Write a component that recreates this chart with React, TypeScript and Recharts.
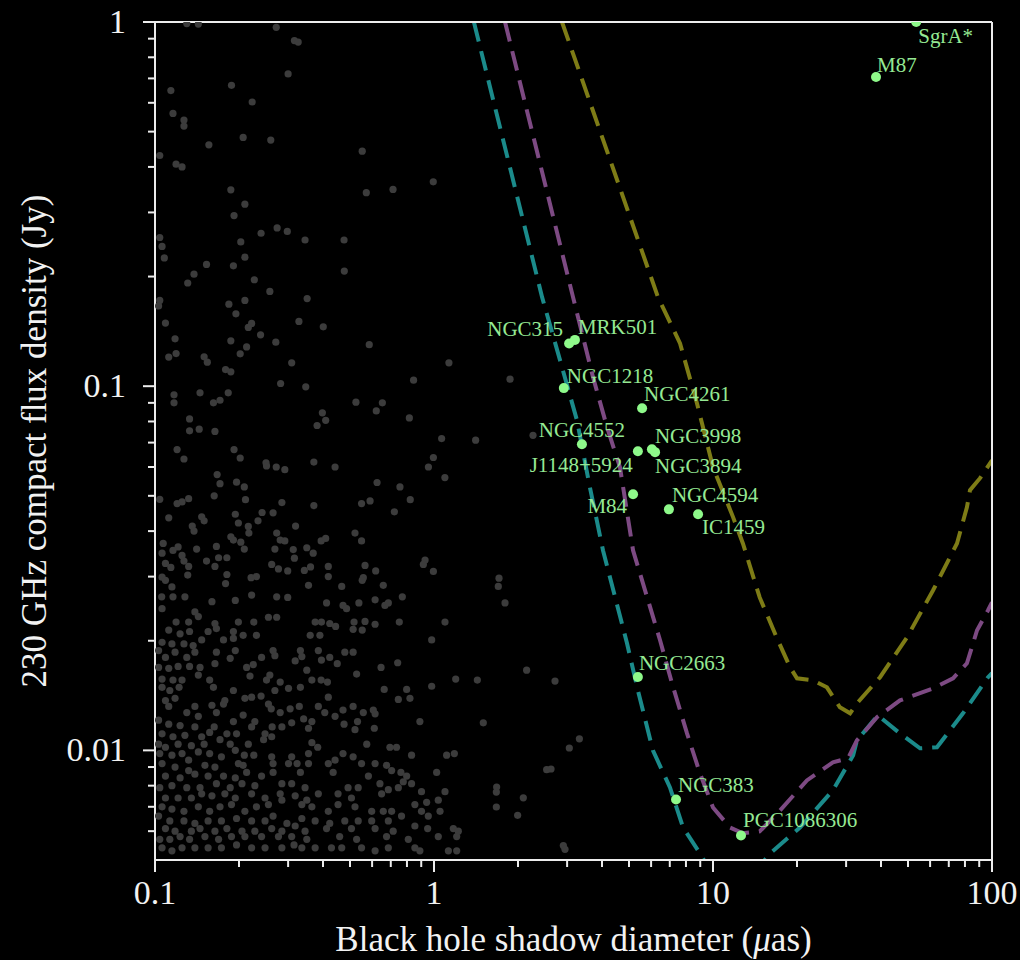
import { ComposedChart, Line, ReferenceLine, Scatter, XAxis, YAxis } from 'recharts';

// axis ticks
const xMajor = [0.1, 1, 10, 100];
const xMinor = [0.2, 0.3, 0.4, 0.5, 0.6, 0.7, 0.8, 0.9, 2, 3, 4, 5, 6, 7, 8, 9, 20, 30, 40, 50, 60, 70, 80, 90];
const xTickLabels = ['0.1', '1', '10', '100'];
const yMajor = [0.01, 0.1, 1];
const yMinor = [0.006, 0.007, 0.008, 0.009, 0.02, 0.03, 0.04, 0.05, 0.06, 0.07, 0.08, 0.09, 0.2, 0.3, 0.4, 0.5, 0.6, 0.7, 0.8, 0.9];
const yTickLabels = ['0.01', '0.1', '1'];

// sensitivity curves (shadow diameter, flux)
const tealX = [1.39, 2.44, 2.876, 3.254, 3.62, 4.035, 4.918, 5.38, 6.09, 7.01, 7.81, 8.98, 11.5, 16.0, 20.5, 26.9, 31.8, 32.8, 39.0, 46.8, 55.2, 63.5, 78.7, 96.8, 100];
const tealY = [1, 0.1756, 0.1128, 0.0806, 0.0528, 0.0354, 0.01968, 0.01462, 0.01, 0.00791, 0.00614, 0.00521, 0.0038, 0.00521, 0.00614, 0.00777, 0.00969, 0.01065, 0.01248, 0.01113, 0.01013, 0.0102, 0.01264, 0.01588, 0.0163];
const purpleX = [1.797, 3.15, 3.715, 4.17, 4.64, 5.17, 6.46, 7.13, 8.07, 8.98, 10.0, 11.5, 12.8, 14.7, 17.4, 21.7, 26.9, 30.5, 32.8, 38.7, 46.8, 61.5, 72.5, 81.3, 88.4, 96.8, 100];
const purpleY = [1, 0.1756, 0.1059, 0.0772, 0.0599, 0.0354, 0.02006, 0.01528, 0.01113, 0.00865, 0.00697, 0.00614, 0.00592, 0.00599, 0.00684, 0.00827, 0.00927, 0.00951, 0.01065, 0.01233, 0.01372, 0.0148, 0.01577, 0.01734, 0.02137, 0.02425, 0.0255];
const oliveX = [2.876, 6.35, 7.62, 8.76, 10.0, 11.8, 12.8, 14.7, 16.9, 18.9, 20.0, 22.8, 25.6, 28.5, 31.0, 32.8, 39.7, 49.6, 61.5, 74.9, 81.3, 83.4, 90.6, 100];
const oliveY = [1, 0.1756, 0.131, 0.0898, 0.0599, 0.0437, 0.037, 0.0263, 0.02044, 0.0169, 0.01577, 0.01557, 0.0149, 0.01313, 0.01264, 0.01346, 0.01588, 0.02044, 0.02752, 0.037, 0.0465, 0.0518, 0.0559, 0.0626];

// named sources
const sourceNames = ['SgrA*', 'M87', 'NGC315', 'MRK501', 'NGC1218', 'NGC4261', 'NGC4552', 'J1148+5924', 'NGC3998', 'NGC3894', 'M84', 'NGC4594', 'IC1459', 'NGC2663', 'NGC383', 'PGC1086306'];
const sourceDiameter = [53.5, 38.4, 3.05, 3.2, 2.92, 5.57, 3.39, 5.38, 6.04, 6.2, 5.17, 6.95, 8.84, 5.38, 7.37, 12.6];
const sourceFlux = [1.0, 0.706, 0.131, 0.134, 0.0988, 0.087, 0.0693, 0.0663, 0.0671, 0.0659, 0.0505, 0.0459, 0.0445, 0.0159, 0.00733, 0.00584];

// faint background population
const faintTop = [
  [0.13, 0.99], [0.143, 0.987], [0.272, 0.967], [0.316, 0.889], [0.326, 0.881], [0.3, 0.72], [0.188, 0.67], [0.114, 0.648],
  [0.223, 0.603], [0.116, 0.561], [0.127, 0.538], [0.127, 0.518], [0.207, 0.482], [0.26, 0.474], [0.156, 0.46], [0.553, 0.442],
  [0.104, 0.43], [0.119, 0.407], [0.125, 0.4], [0.994, 0.364], [0.187, 0.346], [0.572, 0.34], [0.713, 0.347], [0.21, 0.316],
  [0.192, 0.294], [0.274, 0.272], [0.298, 0.266], [0.24, 0.263], [0.104, 0.256], [0.203, 0.249], [0.345, 0.252], [0.476, 0.252],
  [0.106, 0.242], [0.108, 0.225], [0.21, 0.226], [0.153, 0.216], [0.191, 0.214], [0.477, 0.207], [0.138, 0.203], [0.131, 0.192],
  [0.227, 0.196], [0.258, 0.182], [0.351, 0.174], [0.104, 0.172], [0.21, 0.172], [0.184, 0.168], [0.103, 0.166], [0.195, 0.158],
];
const faintMid = [
  [0.109, 0.149], [0.222, 0.1487], [0.216, 0.145], [0.328, 0.1506], [0.401, 0.1455], [0.239, 0.1384], [0.118, 0.1349], [0.187, 0.1332],
  [0.271, 0.1321], [0.213, 0.1282], [0.586, 0.13], [0.112, 0.1202], [0.119, 0.1229], [0.202, 0.1227], [0.15, 0.1204], [0.154, 0.1164],
  [0.309, 0.1159], [1.131, 0.1159], [0.179, 0.1111], [0.187, 0.1095], [0.845, 0.1039], [0.282, 0.1017], [0.347, 0.0996], [0.145, 0.0959],
  [0.183, 0.0959], [0.117, 0.0947], [0.117, 0.09], [0.162, 0.09], [0.171, 0.0915], [0.525, 0.0904], [0.653, 0.09], [0.621, 0.0855],
  [0.398, 0.0845], [0.409, 0.0806], [0.381, 0.078], [0.816, 0.0818], [0.133, 0.0813], [0.133, 0.0754], [0.144, 0.0762], [0.164, 0.0751],
  [1.065, 0.0718], [0.12, 0.067], [0.192, 0.067], [0.127, 0.0631], [0.202, 0.0635], [0.995, 0.0637], [0.25, 0.0616], [0.251, 0.0604],
  [0.272, 0.06], [0.292, 0.059], [0.371, 0.0619], [0.442, 0.06], [0.955, 0.06], [1.094, 0.0561], [0.167, 0.0572], [0.171, 0.054],
  [0.196, 0.0545], [0.209, 0.0529], [0.625, 0.0544], [0.755, 0.0529], [0.104, 0.0489], [0.12, 0.0476], [0.125, 0.0481], [0.132, 0.0491],
  [0.163, 0.05], [0.211, 0.0488], [0.285, 0.0479], [0.371, 0.047], [0.55, 0.0476], [0.59, 0.0484], [0.822, 0.0488], [0.721, 0.0452],
  [0.112, 0.0435], [0.147, 0.0438], [0.15, 0.0427], [0.136, 0.0413], [0.138, 0.04], [0.194, 0.0445], [0.199, 0.0421], [0.242, 0.045],
  [0.265, 0.0449], [0.234, 0.0427], [0.216, 0.0412], [0.217, 0.0395], [0.319, 0.0413], [0.521, 0.0395], [0.55, 0.0376], [0.394, 0.0376],
  [0.409, 0.0382], [0.273, 0.0395], [0.281, 0.0378], [0.292, 0.0376], [0.187, 0.0386], [0.191, 0.0378], [0.203, 0.0373], [0.209, 0.0357],
  [0.107, 0.037], [0.121, 0.0362], [0.116, 0.0354], [0.106, 0.0348], [0.125, 0.0343], [0.127, 0.0331], [0.141, 0.0357], [0.166, 0.0363],
  [0.269, 0.0357], [0.313, 0.0356], [0.35, 0.036], [0.369, 0.0348], [0.316, 0.0337], [0.109, 0.0326], [0.114, 0.0318], [0.132, 0.032],
  [0.153, 0.0331], [0.169, 0.0338], [0.181, 0.0338], [0.164, 0.032], [0.262, 0.0324], [0.277, 0.0315], [0.299, 0.0311], [0.343, 0.0312],
  [0.361, 0.0319], [0.418, 0.032], [0.566, 0.0322], [0.618, 0.0311], [0.929, 0.0333], [0.916, 0.0324], [0.995, 0.031], [0.106, 0.0299],
  [0.109, 0.0293], [0.131, 0.0303], [0.181, 0.0304], [0.221, 0.0298], [0.231, 0.03], [0.418, 0.03], [0.558, 0.0298], [0.553, 0.0293],
  [0.355, 0.0284], [0.115, 0.0281], [0.179, 0.0287], [0.467, 0.0282], [0.658, 0.0284],
];
const faintLow = [
  [0.1057, 0.0264], [0.116, 0.0264], [0.128, 0.0264], [0.16, 0.0256], [0.194, 0.0258], [0.222, 0.0267], [0.273, 0.0264], [0.299, 0.0263],
  [0.412, 0.0254], [0.472, 0.025], [0.486, 0.0245], [0.538, 0.0254], [0.615, 0.0259], [0.667, 0.025], [0.77, 0.0264], [0.686, 0.0254],
  [0.106, 0.0245], [0.139, 0.024], [0.143, 0.0233], [0.119, 0.0225], [0.132, 0.0225], [0.164, 0.0223], [0.199, 0.0225], [0.226, 0.0225],
  [0.255, 0.0232], [0.273, 0.0232], [0.375, 0.0225], [0.395, 0.0225], [0.423, 0.0223], [0.444, 0.0219], [0.517, 0.0225], [0.566, 0.0226],
  [0.615, 0.0222], [0.751, 0.0225], [1.095, 0.0225], [0.112, 0.0214], [0.123, 0.0209], [0.133, 0.0212], [0.155, 0.0212], [0.166, 0.0216],
  [0.191, 0.0212], [0.207, 0.0207], [0.231, 0.0207], [0.36, 0.0207], [0.39, 0.0207], [0.513, 0.0215], [0.553, 0.0214],
  [0.106, 0.0198], [0.115, 0.0196], [0.127, 0.0196], [0.137, 0.0194], [0.147, 0.0201], [0.176, 0.0201], [0.191, 0.0203], [0.981, 0.0201],
  [0.103, 0.0188], [0.109, 0.018], [0.118, 0.0186], [0.13, 0.018], [0.139, 0.0186], [0.166, 0.0186], [0.194, 0.0188], [0.241, 0.018],
  [0.265, 0.0188], [0.269, 0.0182], [0.332, 0.0188], [0.336, 0.0181], [0.385, 0.0188], [0.479, 0.0186], [0.513, 0.0186], [0.395, 0.0177],
  [0.423, 0.018], [0.45, 0.0173],
  [0.103, 0.0169], [0.112, 0.0168], [0.121, 0.017], [0.133, 0.017], [0.145, 0.0169], [0.164, 0.0173], [0.186, 0.0179], [0.213, 0.0169],
  [0.225, 0.0172], [0.318, 0.0176], [0.35, 0.0166], [0.646, 0.0169], [0.741, 0.0174], [0.106, 0.0157], [0.116, 0.0156], [0.125, 0.0156],
  [0.143, 0.0161], [0.157, 0.0156], [0.219, 0.016], [0.251, 0.0156], [0.258, 0.0161], [0.281, 0.0154], [0.365, 0.0156], [0.394, 0.0156],
  [0.415, 0.0154], [0.528, 0.0162], [1.196, 0.0157], [0.981, 0.015],
  [0.106, 0.0149], [0.113, 0.0146], [0.122, 0.0149], [0.162, 0.0149], [0.191, 0.0146], [0.21, 0.0139], [0.222, 0.014], [0.24, 0.0141],
  [0.269, 0.0146], [0.301, 0.0148], [0.332, 0.0149], [0.418, 0.014], [0.663, 0.0147], [0.798, 0.0147], [0.745, 0.0138], [0.82, 0.0139],
  [0.109, 0.0137], [0.118, 0.0139], [0.139, 0.0132], [0.16, 0.0133], [0.178, 0.0137], [0.112, 0.0132], [0.13, 0.0127], [0.143, 0.0124],
  [0.166, 0.0127], [0.176, 0.0134], [0.207, 0.0125], [0.255, 0.0134], [0.261, 0.013], [0.281, 0.0127], [0.305, 0.013], [0.329, 0.0132],
  [0.385, 0.0132], [0.472, 0.0129], [0.513, 0.0132], [0.558, 0.0127], [0.606, 0.0129], [0.615, 0.0126],
  [0.103, 0.0121], [0.112, 0.0118], [0.123, 0.0117], [0.139, 0.0116], [0.163, 0.0116], [0.181, 0.0111], [0.191, 0.012], [0.222, 0.0116],
  [0.228, 0.012], [0.263, 0.0116], [0.285, 0.0116], [0.309, 0.0119], [0.341, 0.0122], [0.365, 0.012], [0.406, 0.0127], [0.442, 0.0124],
  [0.476, 0.0118], [0.532, 0.012], [0.521, 0.0114], [0.611, 0.0115], [0.89, 0.012], [0.106, 0.0111], [0.116, 0.0109], [0.128, 0.011],
  [0.147, 0.0109], [0.157, 0.0112], [0.196, 0.0111], [0.248, 0.0111], [0.262, 0.0109], [0.355, 0.0115],
  [0.103, 0.0104], [0.109, 0.0102], [0.121, 0.0104], [0.135, 0.0103], [0.15, 0.0104], [0.171, 0.0107], [0.186, 0.0104], [0.216, 0.0104],
  [0.245, 0.0107], [0.365, 0.0105], [0.383, 0.0102], [0.574, 0.0104], [0.695, 0.0102], [0.734, 0.0102], [0.104, 0.0098], [0.115, 0.0097],
  [0.125, 0.0098], [0.132, 0.0094], [0.143, 0.0099], [0.157, 0.0098], [0.173, 0.0096], [0.194, 0.01], [0.209, 0.0097], [0.226, 0.0097],
  [0.262, 0.0096], [0.309, 0.0096], [0.355, 0.0098], [0.418, 0.0092], [0.442, 0.0094], [0.472, 0.0098], [0.513, 0.0096], [0.831, 0.0097],
  [1.11, 0.0097], [1.183, 0.0098],
  [0.106, 0.0092], [0.118, 0.009], [0.132, 0.0088], [0.151, 0.0091], [0.164, 0.009], [0.199, 0.0092], [0.207, 0.0091], [0.265, 0.0092],
  [0.301, 0.0092], [0.323, 0.0092], [0.355, 0.0092], [0.55, 0.0092], [0.615, 0.0092], [0.676, 0.0091], [0.705, 0.0088], [0.109, 0.0085],
  [0.123, 0.0084], [0.139, 0.0086], [0.155, 0.0085], [0.176, 0.0085], [0.194, 0.0084], [0.213, 0.0087], [0.241, 0.0085], [0.265, 0.0087],
  [0.332, 0.0087], [0.435, 0.0087], [0.582, 0.0085], [0.761, 0.0087], [0.798, 0.0085], [1.022, 0.0087], [0.104, 0.0079], [0.115, 0.008],
  [0.13, 0.0079], [0.145, 0.0079], [0.166, 0.0081], [0.186, 0.0079], [0.205, 0.0081], [0.228, 0.008], [0.285, 0.0081], [0.309, 0.0081],
  [0.345, 0.0079], [0.492, 0.0079], [0.535, 0.0079], [0.64, 0.0081], [0.745, 0.0079], [0.776, 0.0082], [0.831, 0.0081],
  [0.109, 0.0074], [0.121, 0.0074], [0.135, 0.0074], [0.147, 0.0076], [0.16, 0.0075], [0.178, 0.0076], [0.194, 0.0074], [0.222, 0.0076],
  [0.248, 0.0074], [0.281, 0.0076], [0.318, 0.0075], [0.35, 0.0073], [0.385, 0.0076], [0.453, 0.0076], [0.506, 0.0074], [0.649, 0.0076],
  [0.686, 0.0078], [0.902, 0.0077], [1.095, 0.0077], [0.106, 0.007], [0.115, 0.0069], [0.127, 0.0068], [0.143, 0.007], [0.157, 0.0068],
  [0.171, 0.007], [0.188, 0.0071], [0.21, 0.0068], [0.231, 0.007], [0.255, 0.0071], [0.285, 0.0073], [0.336, 0.0071], [0.365, 0.007],
  [0.418, 0.0068], [0.453, 0.0071], [0.521, 0.007], [0.598, 0.0068], [0.658, 0.0068], [0.705, 0.0068], [0.854, 0.0071], [0.941, 0.0072],
  [1.036, 0.0073], [1.051, 0.0068],
  [0.103, 0.0066], [0.113, 0.0064], [0.127, 0.0064], [0.139, 0.0063], [0.155, 0.0064], [0.173, 0.0064], [0.196, 0.0065], [0.222, 0.0064],
  [0.248, 0.0064], [0.265, 0.0066], [0.297, 0.0063], [0.336, 0.0065], [0.375, 0.0064], [0.423, 0.0063], [0.479, 0.0064], [0.535, 0.0064],
  [0.598, 0.0064], [0.686, 0.0064], [0.765, 0.0066], [0.902, 0.0068], [0.954, 0.0066], [0.109, 0.0061], [0.118, 0.006], [0.135, 0.006],
  [0.145, 0.0061], [0.164, 0.006], [0.181, 0.0061], [0.205, 0.006], [0.228, 0.006], [0.262, 0.0061], [0.285, 0.006], [0.318, 0.0062],
  [0.345, 0.006], [0.412, 0.0061], [0.506, 0.0061], [0.615, 0.0061], [0.714, 0.006], [0.854, 0.0062], [0.949, 0.0061], [1.173, 0.0061],
  [1.222, 0.006], [0.104, 0.0057], [0.113, 0.0057], [0.123, 0.0058], [0.133, 0.0057], [0.151, 0.0058], [0.169, 0.0057], [0.188, 0.0058],
  [0.21, 0.0058], [0.241, 0.0058], [0.277, 0.0058], [0.309, 0.0058], [0.35, 0.0057], [0.459, 0.0058], [0.528, 0.0057], [0.676, 0.0058],
  [0.809, 0.0057], [1.036, 0.0058], [1.206, 0.0058],
  [0.106, 0.0054], [0.115, 0.0053], [0.125, 0.0054], [0.139, 0.0054], [0.155, 0.0054], [0.173, 0.0054], [0.196, 0.0055], [0.222, 0.0054],
  [0.248, 0.0054], [0.285, 0.0054], [0.315, 0.0055], [0.336, 0.0054], [0.375, 0.0054], [0.429, 0.0054], [0.467, 0.0054], [0.55, 0.0054],
  [0.615, 0.0053], [0.686, 0.0054], [0.854, 0.0054], [0.89, 0.0053], [1.126, 0.0053], [1.206, 0.0053],
];
const faintRight = [
  [1.41, 0.0711], [1.873, 0.1045], [2.264, 0.0733], [1.71, 0.0297], [1.7, 0.0282], [1.797, 0.0254], [2.148, 0.0166], [1.43, 0.0156],
  [2.715, 0.0155], [1.502, 0.0119], [3.32, 0.01076], [3.055, 0.01015], [2.534, 0.00885], [2.627, 0.00889], [1.677, 0.00793],
  [1.673, 0.00768], [2.09, 0.00741], [1.673, 0.00699], [1.994, 0.00663], [2.908, 0.00548], [2.948, 0.00535],
];

const toPoints = (xs: number[], ys: number[]) => xs.map((x, i) => ({ x, y: ys[i] }));
const tealData = toPoints(tealX, tealY);
const purpleData = toPoints(purpleX, purpleY);
const oliveData = toPoints(oliveX, oliveY);
const sourceData = sourceNames.map((name, i) => ({ name, x: sourceDiameter[i], y: sourceFlux[i] }));
const faintData = [...faintTop, ...faintMid, ...faintLow, ...faintRight].map(([x, y]) => ({ x, y }));

// where each source label sits relative to its dot
const labelPlacement: Record<string, { dx: number; dy: number; anchor: 'start' | 'middle' | 'end' }> = {
  'SgrA*': { dx: 2, dy: 21, anchor: 'start' },
  M87: { dx: 1, dy: -5, anchor: 'start' },
  NGC315: { dx: -6, dy: -7, anchor: 'end' },
  MRK501: { dx: 3, dy: -6, anchor: 'start' },
  NGC1218: { dx: 3, dy: -5, anchor: 'start' },
  NGC4261: { dx: 2, dy: -7, anchor: 'start' },
  NGC4552: { dx: 0, dy: -7, anchor: 'middle' },
  'J1148+5924': { dx: -5, dy: 21, anchor: 'end' },
  NGC3998: { dx: 3, dy: -6, anchor: 'start' },
  NGC3894: { dx: 0, dy: 21, anchor: 'start' },
  M84: { dx: -6, dy: 19, anchor: 'end' },
  NGC4594: { dx: 3, dy: -7, anchor: 'start' },
  IC1459: { dx: 4, dy: 20, anchor: 'start' },
  NGC2663: { dx: 1, dy: -7, anchor: 'start' },
  NGC383: { dx: 2, dy: -7, anchor: 'start' },
  PGC1086306: { dx: 2, dy: -8, anchor: 'start' },
};

const SERIF = "'Liberation Serif', 'DejaVu Serif', serif";
const AXIS_COLOR = '#ececec';
const TEXT_COLOR = '#f2f2f2';

function XTick({ x, y, payload }: any) {
  const idx = xMajor.indexOf(payload.value);
  const major = idx >= 0;
  return (
    <g>
      <line x1={x} x2={x} y1={y} y2={y + (major ? 12 : 7)} stroke={AXIS_COLOR} strokeWidth={2} />
      {major && (
        <text x={x} y={y + 44} textAnchor="middle" fill={TEXT_COLOR} fontSize={34} fontFamily={SERIF}>
          {xTickLabels[idx]}
        </text>
      )}
    </g>
  );
}

function YTick({ x, y, payload }: any) {
  const idx = yMajor.indexOf(payload.value);
  const major = idx >= 0;
  return (
    <g>
      <line x1={x} x2={x - (major ? 12 : 7)} y1={y} y2={y} stroke={AXIS_COLOR} strokeWidth={2} />
      {major && (
        <text x={x - 29} y={y + 11} textAnchor="end" fill={TEXT_COLOR} fontSize={34} fontFamily={SERIF}>
          {yTickLabels[idx]}
        </text>
      )}
    </g>
  );
}

function XTitle({ viewBox }: any) {
  const { x, y, width } = viewBox;
  return (
    <text x={x + width / 2} y={y + 91} textAnchor="middle" fill={TEXT_COLOR} fontSize={35} fontFamily={SERIF}>
      Black hole shadow diameter (<tspan fontStyle="italic">μ</tspan>as)
    </text>
  );
}

function YTitle({ viewBox }: any) {
  const { y, height } = viewBox;
  const cx = 46;
  const cy = y + height / 2;
  return (
    <text x={cx} y={cy} transform={`rotate(-90, ${cx}, ${cy})`} textAnchor="middle" fill={TEXT_COLOR} fontSize={35} fontFamily={SERIF}>
      230 GHz compact flux density (Jy)
    </text>
  );
}

const faintDot = (props: any) => <circle cx={props.cx} cy={props.cy} r={3.6} fill="#3c3c3c" />;

const sourceDot = (props: any) => {
  const p = labelPlacement[props.payload.name];
  return (
    <g>
      <circle cx={props.cx} cy={props.cy} r={5} fill="#8ef98a" />
      <text x={props.cx + p.dx} y={props.cy + p.dy} textAnchor={p.anchor} fill="#95e993" fontSize={21} fontFamily={SERIF}>
        {props.payload.name}
      </text>
    </g>
  );
};

export default function App() {
  return (
    <div style={{ position: 'fixed', left: 0, top: 0, width: 1020, height: 960, background: '#000' }}>
      <ComposedChart width={1020} height={960} margin={{ top: 22, right: 28, bottom: 0, left: 0 }}>
        <XAxis
          type="number"
          dataKey="x"
          scale="log"
          domain={[0.1, 100]}
          allowDataOverflow
          ticks={[...xMajor, ...xMinor]}
          interval={0}
          tickSize={0}
          tickMargin={0}
          tick={<XTick />}
          height={100}
          axisLine={{ stroke: AXIS_COLOR, strokeWidth: 2 }}
          label={<XTitle />}
        />
        <YAxis
          type="number"
          dataKey="y"
          scale="log"
          domain={[0.005, 1]}
          allowDataOverflow
          ticks={[...yMajor, ...yMinor]}
          interval={0}
          tickSize={0}
          tickMargin={0}
          tick={<YTick />}
          width={155}
          axisLine={{ stroke: AXIS_COLOR, strokeWidth: 2 }}
          label={<YTitle />}
        />
        <Scatter data={faintData} shape={faintDot} isAnimationActive={false} />
        <Line data={tealData} dataKey="y" type="linear" stroke="#1b8b8b" strokeWidth={4} strokeDasharray="20 10" dot={false} activeDot={false} isAnimationActive={false} />
        <Line data={purpleData} dataKey="y" type="linear" stroke="#7d4a83" strokeWidth={4} strokeDasharray="20 10" dot={false} activeDot={false} isAnimationActive={false} />
        <Line data={oliveData} dataKey="y" type="linear" stroke="#7e7c16" strokeWidth={4} strokeDasharray="20 10" dot={false} activeDot={false} isAnimationActive={false} />
        <Scatter data={sourceData} shape={sourceDot} isAnimationActive={false} />
        <ReferenceLine y={1} stroke={AXIS_COLOR} strokeWidth={2} />
        <ReferenceLine x={100} stroke={AXIS_COLOR} strokeWidth={2} />
      </ComposedChart>
    </div>
  );
}
